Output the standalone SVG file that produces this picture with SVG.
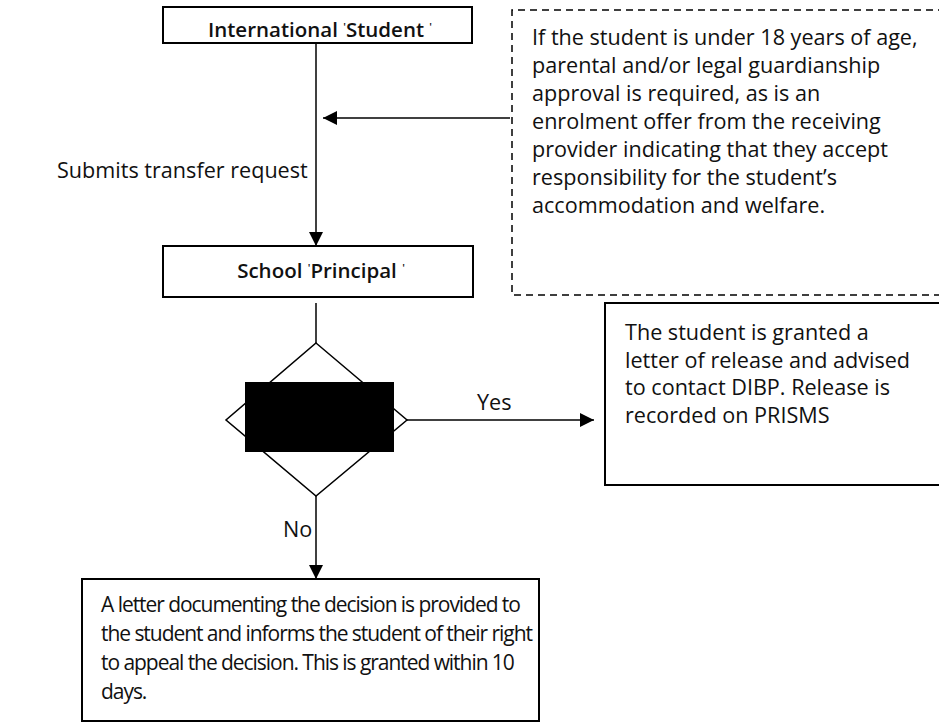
<svg xmlns="http://www.w3.org/2000/svg" width="939" height="723" viewBox="0 0 939 723">
<style>
.box{fill:#fff;stroke:#000;stroke-width:2}
.dash{fill:#fff;stroke:#000;stroke-width:1.5;stroke-dasharray:7,5}
.t{font-family:"Open Sans","Liberation Sans",sans-serif;font-size:21.6px;fill:#111}
.tb{font-family:"Open Sans","Liberation Sans",sans-serif;font-size:21px;letter-spacing:-1.05px;fill:#111}
.b{font-family:"Open Sans","Liberation Sans",sans-serif;font-size:20.5px;font-weight:600;fill:#111;text-anchor:middle}
.tick{font-size:11px}
.ln{stroke:#000;stroke-width:1.5;fill:none}
</style>
<defs>
<marker id="ah" viewBox="0 0 10 10" refX="10" refY="5" markerWidth="14" markerHeight="14" markerUnits="userSpaceOnUse" orient="auto">
<path d="M0,0 L10,5 L0,10 z" fill="#000"/>
</marker>
</defs>
<rect width="939" height="723" fill="#fff"/>
<g id="connectors">
<line class="ln" x1="316" y1="44" x2="316" y2="246" marker-end="url(#ah)"/>
<line class="ln" x1="510" y1="118" x2="323" y2="118" marker-end="url(#ah)"/>
<line class="ln" x1="316" y1="303" x2="316" y2="343"/>
<line class="ln" x1="407" y1="420" x2="594" y2="420" marker-end="url(#ah)"/>
<line class="ln" x1="316" y1="496" x2="316" y2="579" marker-end="url(#ah)"/>
<text class="t" x="57" y="178">Submits transfer request</text>
<text class="t" x="477" y="410">Yes</text>
<text class="t" x="283" y="537">No</text>
</g>
<g id="international-student">
<rect class="box" x="163" y="7" width="309" height="36"/>
<text class="b" x="320" y="37">International <tspan class="tick" dy="-6">'</tspan><tspan dy="6">Student </tspan><tspan class="tick" dy="-6">'</tspan></text>
</g>
<g id="note">
<path class="dash" d="M945,10 H512 V295 H945"/>
<text class="t" x="532" y="45">If the student is under 18 years of age,</text>
<text class="t" x="532" y="73">parental and/or legal guardianship</text>
<text class="t" x="532" y="101">approval is required, as is an</text>
<text class="t" x="532" y="129">enrolment offer from the receiving</text>
<text class="t" x="532" y="157">provider indicating that they accept</text>
<text class="t" x="532" y="185">responsibility for the student’s</text>
<text class="t" x="532" y="213">accommodation and welfare.</text>
</g>
<g id="school-principal">
<rect class="box" x="163" y="246" width="310" height="51"/>
<text class="b" x="321" y="278">School <tspan class="tick" dy="-6">'</tspan><tspan dy="6">Principal </tspan><tspan class="tick" dy="-6">'</tspan></text>
</g>
<g id="decision">
<path class="ln" d="M316,343 L407,420 L316,496 L226,420 z" fill="#fff"/>
<rect x="245" y="382" width="149" height="70" fill="#000"/>
</g>
<g id="release">
<rect class="box" x="605" y="303" width="345" height="182"/>
<text class="t" x="625" y="340">The student is granted a</text>
<text class="t" x="625" y="367.5">letter of release and advised</text>
<text class="t" x="625" y="395">to contact DIBP. Release is</text>
<text class="t" x="625" y="422.5">recorded on PRISMS</text>
</g>
<g id="appeal-letter">
<rect class="box" x="82" y="579" width="457" height="142"/>
<text class="tb" x="101" y="612">A letter documenting the decision is provided to</text>
<text class="tb" x="101" y="641">the student and informs the student of their right</text>
<text class="tb" x="101" y="670">to appeal the decision. This is granted within 10</text>
<text class="tb" x="101" y="699">days.</text>
</g>
</svg>
